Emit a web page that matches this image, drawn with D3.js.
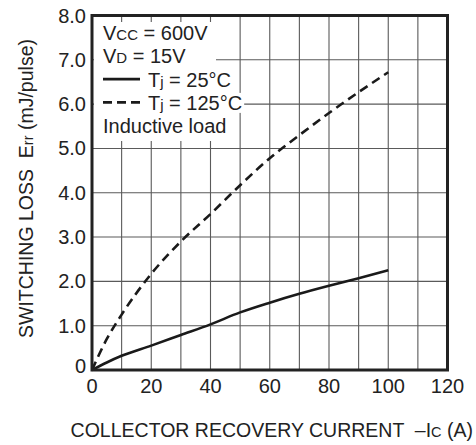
<!DOCTYPE html>
<html>
<head>
<meta charset="utf-8">
<script src="https://cdn.jsdelivr.net/npm/d3@7"></script>
<style>
  body { margin: 0; background: #fff; }
  svg { display: block; font-family: "Liberation Sans", Arial, Helvetica, sans-serif; }
  text { fill: #222; white-space: pre; }
</style>
</head>
<body>
<div id="chart"></div>
<script>
// collector recovery current (A)
var current = [0, 5, 10, 20, 30, 40, 50, 60, 70, 80, 90, 100];
// switching loss Err (mJ/pulse)
var err25 = [0, 0.17, 0.32, 0.55, 0.79, 1.03, 1.3, 1.52, 1.72, 1.9, 2.07, 2.25];
var err125 = [0, 0.7, 1.25, 2.17, 2.9, 3.52, 4.17, 4.78, 5.3, 5.8, 6.27, 6.72];

var xTicks = [0, 20, 40, 60, 80, 100, 120];
var xGrid = [10, 20, 30, 40, 50, 60, 70, 80, 90, 100, 110];
var yTicks = [0, 1, 2, 3, 4, 5, 6, 7, 8];
var yTickLabels = ['0', '1.0', '2.0', '3.0', '4.0', '5.0', '6.0', '7.0', '8.0'];

var W = 476, H = 445;
var margin = {top: 15.5, right: 28.5, bottom: 75, left: 92};
var width = W - margin.left - margin.right,
    height = H - margin.top - margin.bottom;

var svg = d3.select('#chart').append('svg')
    .attr('width', W)
    .attr('height', H);

var x = d3.scaleLinear().domain([0, 120]).range([margin.left, margin.left + width]);
var y = d3.scaleLinear().domain([0, 8]).range([margin.top + height, margin.top]);

// grid
var grid = svg.append('g').attr('stroke', '#5a5a5a').attr('stroke-width', 1.1);
grid.selectAll('line.v')
    .data(xGrid)
    .enter().append('line')
    .attr('x1', function(d) { return x(d); })
    .attr('x2', function(d) { return x(d); })
    .attr('y1', y(8))
    .attr('y2', y(0));
grid.selectAll('line.h')
    .data(yTicks.slice(1, -1))
    .enter().append('line')
    .attr('x1', x(0))
    .attr('x2', x(120))
    .attr('y1', function(d) { return y(d); })
    .attr('y2', function(d) { return y(d); });

// legend: white patches over the grid, then text
var legend = svg.append('g');
var lx = 103, ly0 = 40, lstep = 23.3, fs = 20, fsSmall = 15;

function addLine(i, parts, tx) {
    var t = legend.append('text')
        .attr('x', tx)
        .attr('y', ly0 + i * lstep)
        .attr('font-size', fs);
    parts.forEach(function(p) {
        t.append('tspan').attr('font-size', p[1]).text(p[0]);
    });
    return t;
}

var bg = legend.append('g');
var texts = [];
texts.push(addLine(0, [['V', fs], ['CC', fsSmall], [' = 600V', fs]], lx));
texts.push(addLine(1, [['V', fs], ['D', fsSmall], [' = 15V', fs]], lx));
texts.push(addLine(2, [['T', fs], ['j', fsSmall], [' = 25\u00b0C', fs]], 148));
texts.push(addLine(3, [['T', fs], ['j', fsSmall], [' = 125\u00b0C', fs]], 148));
texts.push(addLine(4, [['Inductive load', fs]], lx));

bg.append('rect')
    .attr('x', 94).attr('y', 22)
    .attr('width', 122).attr('height', 119)
    .attr('fill', '#fff');
texts.forEach(function(t) {
    var b = t.node().getBBox();
    bg.append('rect')
        .attr('x', b.x - 1).attr('y', b.y + 1)
        .attr('width', b.width + 3).attr('height', b.height - 2)
        .attr('fill', '#fff');
});

legend.append('line')
    .attr('x1', lx).attr('x2', 140)
    .attr('y1', ly0 + 2 * lstep - 7.5).attr('y2', ly0 + 2 * lstep - 7.5)
    .attr('stroke', '#1a1a1a').attr('stroke-width', 2.6);
legend.append('line')
    .attr('x1', lx).attr('x2', 140)
    .attr('y1', ly0 + 3 * lstep - 7.5).attr('y2', ly0 + 3 * lstep - 7.5)
    .attr('stroke', '#1a1a1a').attr('stroke-width', 2.6)
    .attr('stroke-dasharray', '9,5');

// curves
var line = d3.line()
    .x(function(d) { return x(d[0]); })
    .y(function(d) { return y(d[1]); })
    .curve(d3.curveMonotoneX);

svg.append('path')
    .datum(d3.zip(current, err25))
    .attr('d', line)
    .attr('fill', 'none')
    .attr('stroke', '#1a1a1a')
    .attr('stroke-width', 2.6);

svg.append('path')
    .datum(d3.zip(current, err125))
    .attr('d', line)
    .attr('fill', 'none')
    .attr('stroke', '#1a1a1a')
    .attr('stroke-width', 2.6)
    .attr('stroke-dasharray', '9,5.5');

// frame
svg.append('rect')
    .attr('x', x(0)).attr('y', y(8))
    .attr('width', x(120) - x(0)).attr('height', y(0) - y(8))
    .attr('fill', 'none')
    .attr('stroke', '#222')
    .attr('stroke-width', 3);

// tick labels
svg.append('g').selectAll('text')
    .data(xTicks)
    .enter().append('text')
    .attr('x', function(d) { return x(d); })
    .attr('y', 392.5)
    .attr('text-anchor', 'middle')
    .attr('font-size', 20)
    .text(function(d) { return d; });

svg.append('g').selectAll('text')
    .data(yTicks)
    .enter().append('text')
    .attr('x', 86)
    .attr('y', function(d) { return d === 0 ? y(d) - 4 : y(d); })
    .attr('dy', '0.35em')
    .attr('text-anchor', 'end')
    .attr('font-size', 20)
    .text(function(d, i) { return yTickLabels[i]; });

// axis titles
var xt = svg.append('text')
    .attr('x', 473)
    .attr('y', 437)
    .attr('text-anchor', 'end')
    .attr('font-size', 19.5);
xt.append('tspan').text('COLLECTOR RECOVERY CURRENT  \u2013I');
xt.append('tspan').attr('font-size', 14.5).text('C');
xt.append('tspan').text(' (A)');

var yt = svg.append('text')
    .attr('transform', 'translate(33,188.5) rotate(-90)')
    .attr('text-anchor', 'middle')
    .attr('font-size', 19.5);
yt.append('tspan').text('SWITCHING LOSS  E');
yt.append('tspan').attr('font-size', 14.5).text('rr');
yt.append('tspan').text(' (mJ/pulse)');
</script>
</body>
</html>
